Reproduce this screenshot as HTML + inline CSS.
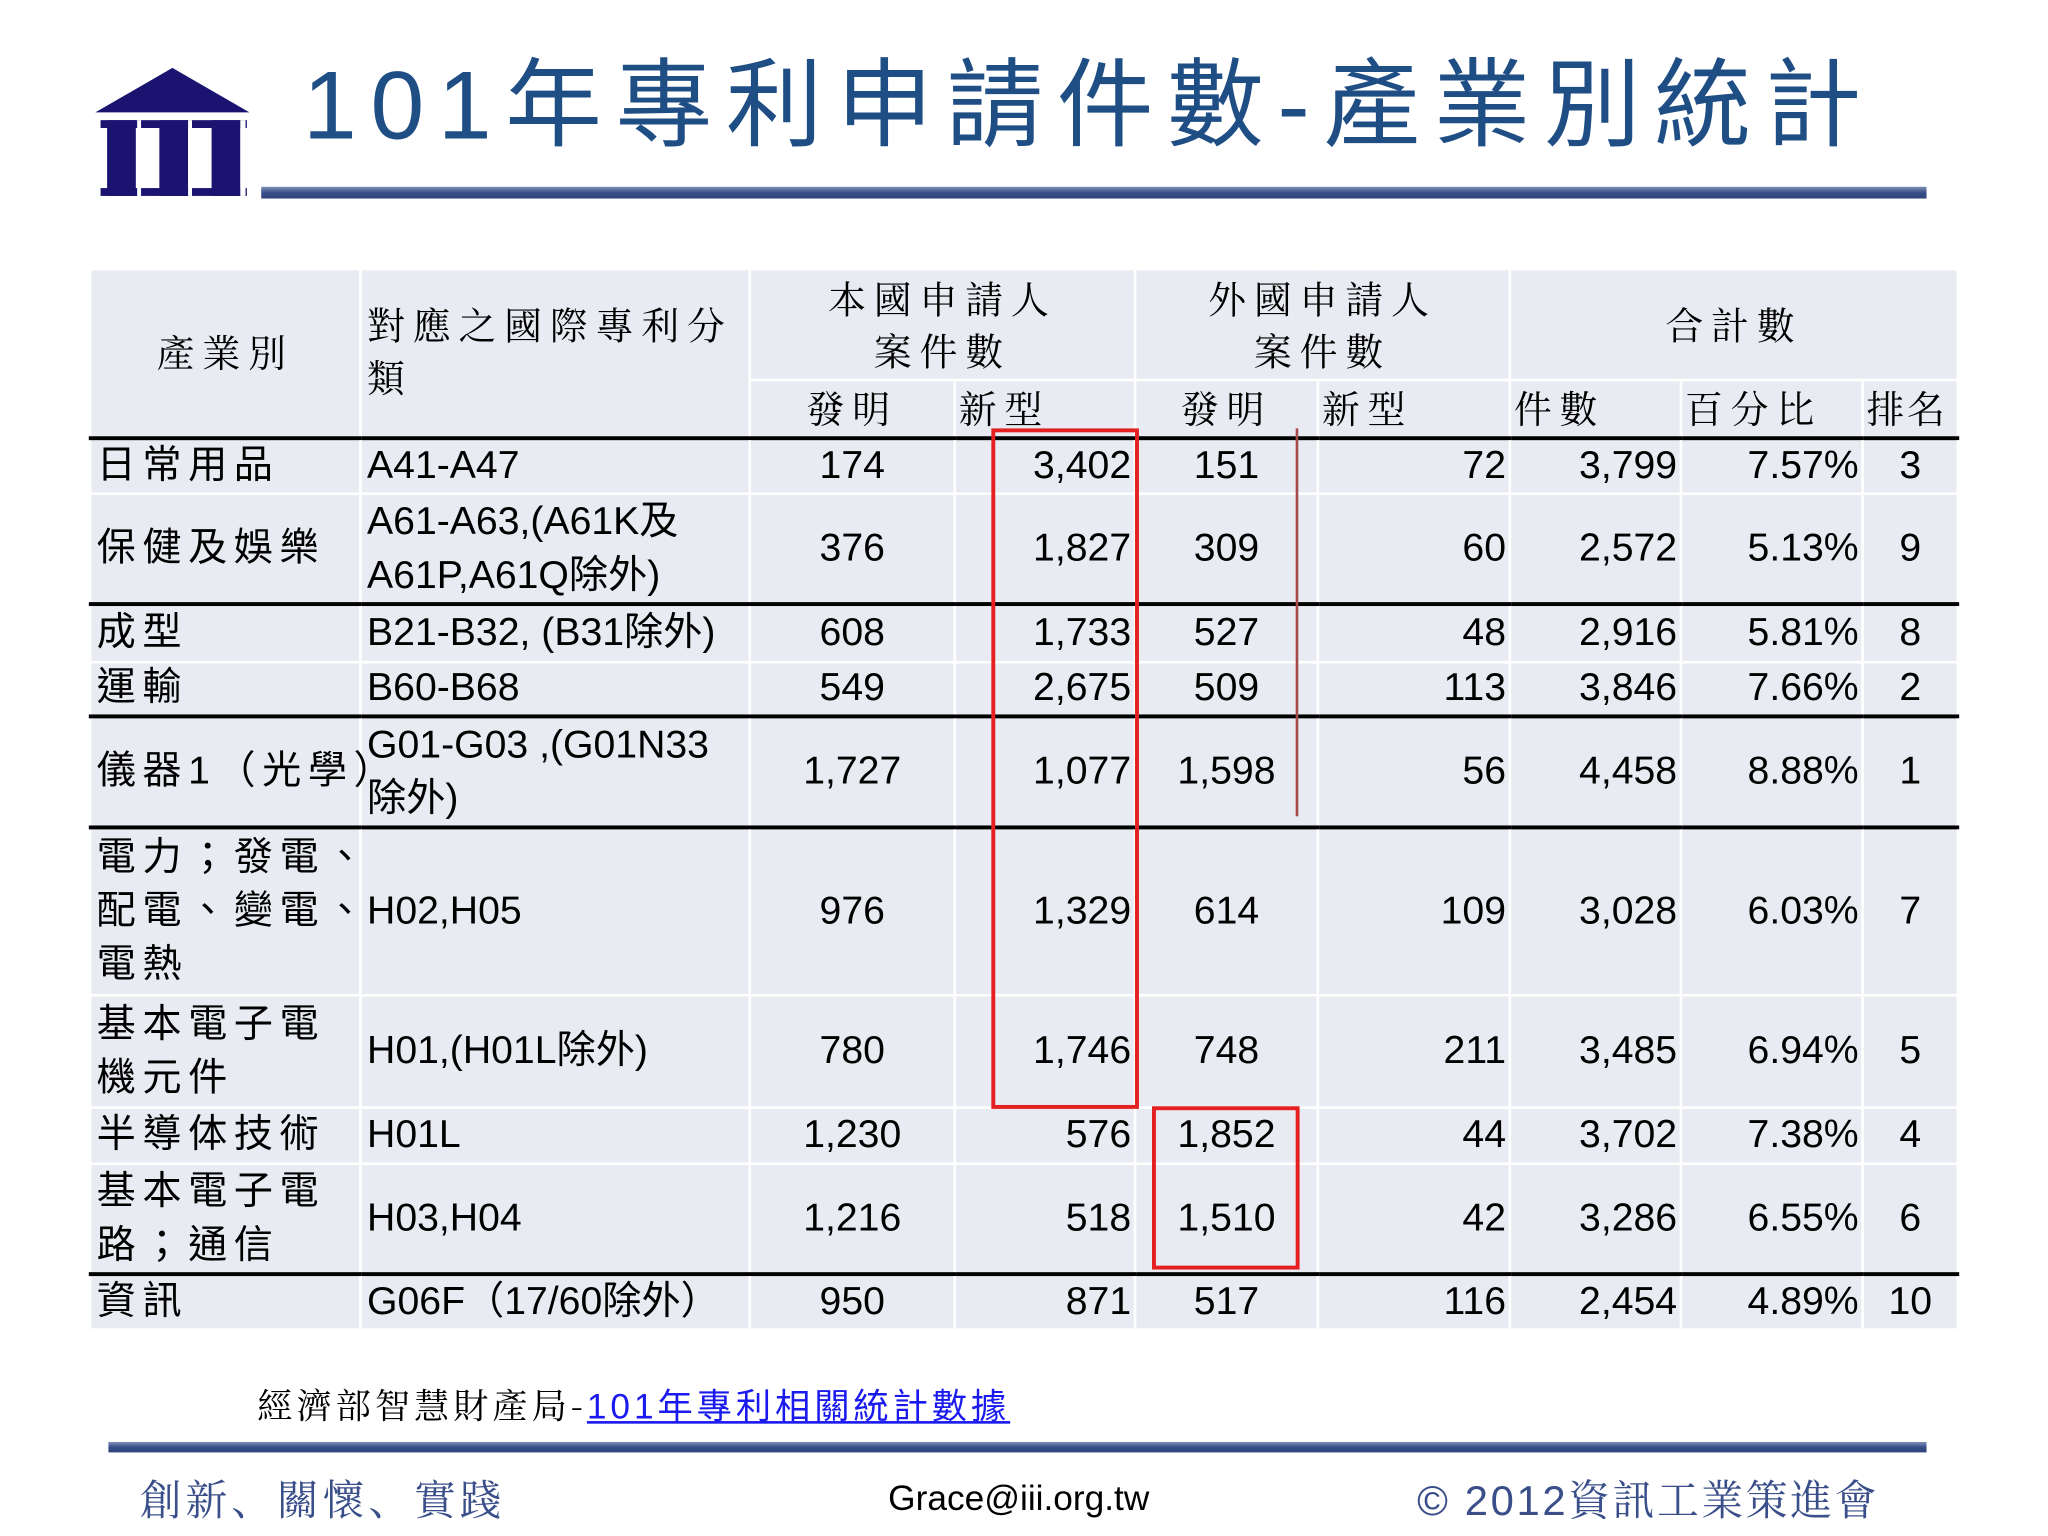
<!DOCTYPE html>
<html><head><meta charset="utf-8">
<style>
html,body{margin:0;padding:0;background:#fff;}
body{width:2048px;height:1536px;overflow:hidden;position:relative;}
#stage{position:absolute;left:0;top:0;width:1568px;height:1176px;transform:scale(1.30612,1.30612);transform-origin:0 0;font-family:"Liberation Sans","Noto Sans CJK TC",sans-serif;}
.abs{position:absolute;white-space:nowrap;}
table{position:absolute;left:68px;top:205px;border-collapse:collapse;table-layout:fixed;width:1430px;}
td{background:#e9ebf2;border:2px solid #fff;padding:0;font-size:30px;color:#000;white-space:nowrap;overflow:visible;line-height:38px;}
td.h{font-family:"Noto Serif CJK SC","Noto Sans CJK TC",serif;letter-spacing:6px;text-align:center;font-size:29px;line-height:40px;}
td.l{padding-left:4px;text-align:left;}
td.c{text-align:center;}
td.r{text-align:right;padding-right:2px;}
td.cj{letter-spacing:5px;}
td.ml{line-height:41px;}
tr.thick td{border-top:3px solid #000;}
</style></head><body>
<div id="stage">
  <svg class="abs" style="left:70px;top:48px" width="125" height="108">
    <polygon points="62,4 3,38 121,38" fill="#1a1470"/>
    <rect x="7" y="44" width="112" height="6" fill="#1a1470"/>
    <rect x="7" y="96" width="112" height="6" fill="#1a1470"/>
    <rect x="12" y="44" width="22" height="58" fill="#1a1470"/>
    <rect x="52" y="44" width="22" height="58" fill="#1a1470"/>
    <rect x="92" y="44" width="22" height="58" fill="#1a1470"/>
    <rect x="35" y="44" width="3" height="58" fill="#fff"/>
    <rect x="74" y="44" width="3" height="58" fill="#fff"/>
    <rect x="114" y="44" width="4" height="58" fill="#fff"/>
  </svg>
  <svg class="abs" style="left:225px;top:28px" width="1220" height="100">
    <text x="7" y="78" font-size="74" fill="#1f4e85" font-family="Liberation Sans,Noto Sans CJK TC,sans-serif" textLength="1193" lengthAdjust="spacing">101年專利申請件數-產業別統計</text>
  </svg>
  <div class="abs" style="left:200px;top:143px;width:1275px;height:9px;background:linear-gradient(#8090b8,#3a4f8a 50%,#2e417a);"></div>

  <table>
    <colgroup><col style="width:207px"><col style="width:298px"><col style="width:157px"><col style="width:138px"><col style="width:140px"><col style="width:147px"><col style="width:131px"><col style="width:139px"><col style="width:73px"></colgroup>
    <tr style="height:85px">
      <td class="h" rowspan="2">產業別</td>
      <td class="h l" rowspan="2" style="text-align:left;vertical-align:top;padding-top:22px;white-space:normal;">對應之國際專利分類</td>
      <td class="h" colspan="2">本國申請人<br>案件數</td>
      <td class="h" colspan="2">外國申請人<br>案件數</td>
      <td class="h" colspan="3">合計數</td>
    </tr>
    <tr style="height:44px">
      <td class="h">發明</td>
      <td class="h" style="text-align:left;padding-left:2px">新型</td>
      <td class="h" style="text-align:left;padding-left:34px">發明</td>
      <td class="h" style="text-align:left;padding-left:2px">新型</td>
      <td class="h" style="text-align:left;padding-left:2px">件數</td>
      <td class="h" style="text-align:left;padding-left:2px">百分比</td>
      <td class="h" style="text-align:left;padding-left:2px;letter-spacing:2px">排名</td>
    </tr>
    <tr class="thick" style="height:43px">
      <td class="l cj">日常用品</td><td class="l">A41-A47</td><td class="c">174</td><td class="r">3,402</td><td class="c">151</td><td class="r">72</td><td class="r">3,799</td><td class="r">7.57%</td><td class="c">3</td></tr>
    <tr style="height:82px">
      <td class="l cj">保健及娛樂</td><td class="l ml">A61-A63,(A61K及<br>A61P,A61Q除外)</td><td class="c">376</td><td class="r">1,827</td><td class="c">309</td><td class="r">60</td><td class="r">2,572</td><td class="r">5.13%</td><td class="c">9</td></tr>
    <tr class="thick" style="height:44px">
      <td class="l cj">成型</td><td class="l">B21-B32, (B31除外)</td><td class="c">608</td><td class="r">1,733</td><td class="c">527</td><td class="r">48</td><td class="r">2,916</td><td class="r">5.81%</td><td class="c">8</td></tr>
    <tr style="height:42px">
      <td class="l cj">運輸</td><td class="l">B60-B68</td><td class="c">549</td><td class="r">2,675</td><td class="c">509</td><td class="r">113</td><td class="r">3,846</td><td class="r">7.66%</td><td class="c">2</td></tr>
    <tr class="thick" style="height:85px">
      <td class="l cj">儀器1（光學）</td><td class="l ml">G01-G03 ,(G01N33<br>除外)</td><td class="c">1,727</td><td class="r">1,077</td><td class="c">1,598</td><td class="r">56</td><td class="r">4,458</td><td class="r">8.88%</td><td class="c">1</td></tr>
    <tr class="thick" style="height:128px">
      <td class="l cj ml">電力；發電、<br>配電、變電、<br>電熱</td><td class="l">H02,H05</td><td class="c">976</td><td class="r">1,329</td><td class="c">614</td><td class="r">109</td><td class="r">3,028</td><td class="r">6.03%</td><td class="c">7</td></tr>
    <tr style="height:86px">
      <td class="l cj ml">基本電子電<br>機元件</td><td class="l">H01,(H01L除外)</td><td class="c">780</td><td class="r">1,746</td><td class="c">748</td><td class="r">211</td><td class="r">3,485</td><td class="r">6.94%</td><td class="c">5</td></tr>
    <tr style="height:43px">
      <td class="l cj">半導体技術</td><td class="l">H01L</td><td class="c">1,230</td><td class="r">576</td><td class="c">1,852</td><td class="r">44</td><td class="r">3,702</td><td class="r">7.38%</td><td class="c">4</td></tr>
    <tr style="height:84px">
      <td class="l cj ml">基本電子電<br>路；通信</td><td class="l">H03,H04</td><td class="c">1,216</td><td class="r">518</td><td class="c">1,510</td><td class="r">42</td><td class="r">3,286</td><td class="r">6.55%</td><td class="c">6</td></tr>
    <tr class="thick" style="height:43px">
      <td class="l cj">資訊</td><td class="l">G06F（17/60除外）</td><td class="c">950</td><td class="r">871</td><td class="c">517</td><td class="r">116</td><td class="r">2,454</td><td class="r">4.89%</td><td class="c">10</td></tr>
  </table>

  <div class="abs" style="left:759px;top:328px;width:107px;height:515px;border:3px solid #e52020;"></div>
  <div class="abs" style="left:882px;top:847px;width:107px;height:119px;border:3px solid #e52020;"></div>
  <div class="abs" style="left:992px;top:328px;width:2px;height:297px;background:#a84848;"></div>

  <div class="abs" style="left:197px;top:1055px;font-size:27px;font-family:'Noto Serif CJK SC','Noto Sans CJK TC',serif;letter-spacing:3px;">經濟部智慧財產局-<a href="#" style="color:#1a1aee;text-decoration:underline;font-family:'Liberation Sans','Noto Sans CJK TC',sans-serif;letter-spacing:3px;">101年專利相關統計數據</a></div>

  <div class="abs" style="left:83px;top:1104px;width:1392px;height:8px;background:linear-gradient(#8090b8,#3a4f8a 50%,#2e417a);"></div>
  <div class="abs" style="left:107px;top:1124px;font-size:32px;color:#3a4f8a;letter-spacing:3px;font-family:'Noto Serif CJK SC','Noto Sans CJK TC',serif;">創新、關懷、實踐</div>
  <div class="abs" style="left:680px;top:1132px;font-size:27px;color:#000;">Grace@iii.org.tw</div>
  <div class="abs" style="left:1085px;top:1124px;font-size:32px;color:#3a4f8a;letter-spacing:2px;font-family:'Liberation Sans','Noto Serif CJK SC',serif;">© 2012資訊工業策進會</div>
</div>
</body></html>
